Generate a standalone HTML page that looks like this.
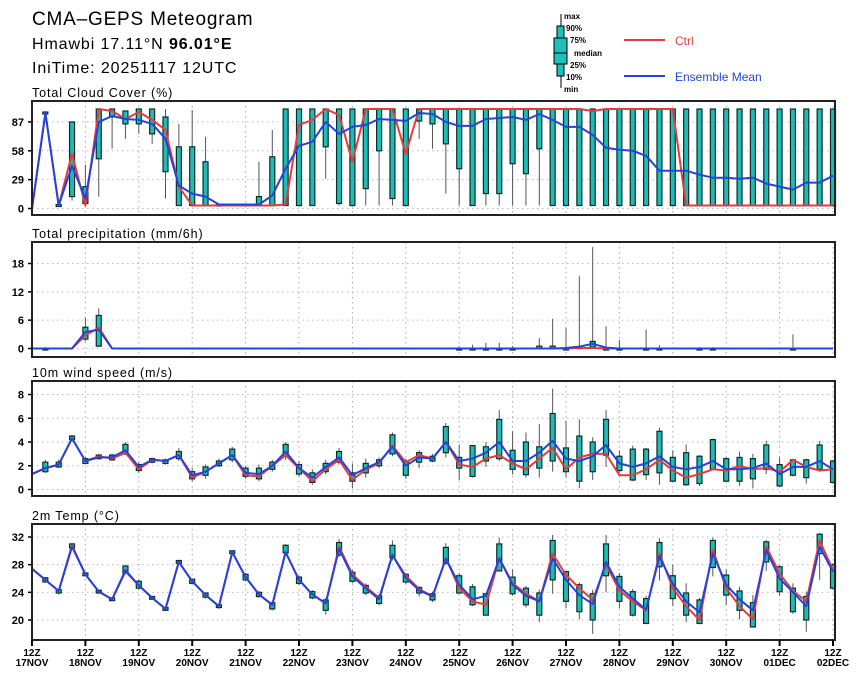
<!DOCTYPE html>
<html><head><meta charset="utf-8"><style>
html,body{margin:0;padding:0;background:#fff;}
svg{display:block;font-family:"Liberation Sans",sans-serif;}
</style></head><body>
<svg id="chart" width="860" height="679" viewBox="0 0 860 679" xmlns="http://www.w3.org/2000/svg">
<text x="32" y="25" font-size="19" letter-spacing="0.8">CMA–GEPS Meteogram</text>
<text x="32" y="49" font-size="16" letter-spacing="0.9">Hmawbi 17.11°N <tspan font-weight="bold">96.01°E</tspan></text>
<text x="32" y="73" font-size="16" letter-spacing="0.9">IniTime: 20251117 12UTC</text>
<g>
<line x1="561" y1="14" x2="561" y2="88" stroke="#000" stroke-width="1"/>
<rect x="557" y="26" width="7" height="50" fill="#1fc0bb" stroke="#000" stroke-width="1"/>
<rect x="554" y="38" width="13" height="26" fill="#1fc0bb" stroke="#000" stroke-width="1"/>
<line x1="554" y1="53" x2="567" y2="53" stroke="#000"/>
<g font-size="8" font-weight="bold">
<text x="564" y="19">max</text><text x="566" y="31">90%</text><text x="570" y="43">75%</text>
<text x="574" y="56">median</text><text x="570" y="68">25%</text><text x="566" y="80">10%</text><text x="564" y="92">min</text></g>
<line x1="624" y1="40" x2="665" y2="40" stroke="#e83a3a" stroke-width="2"/>
<text x="675" y="45" font-size="12" fill="#e83a3a">Ctrl</text>
<line x1="624" y1="76" x2="665" y2="76" stroke="#2244dd" stroke-width="2"/>
<text x="675" y="81" font-size="12" fill="#2244dd">Ensemble Mean</text>
</g>
</svg>
<script>
// ---- data (61 steps, 6-hourly from 12Z 17NOV) ----
const days = ["17NOV","18NOV","19NOV","20NOV","21NOV","22NOV","23NOV","24NOV","25NOV","26NOV","27NOV","28NOV","29NOV","30NOV","01DEC","02DEC"];
const cloudTicks = [0,29,58,87];
const cloudMean = [0,96,3,43,10,87,93,90,89,85,70,23,15,12,4,4,4,4,13,40,63,67,87,75,82,84,90,89,88,96,95,87,83,83,90,91,92,89,95,89,82,82,74,61,59,58,53,38,38,38,34,31,31,30,31,25,22,19,26,26,33];
const cloudCtrl = [0,96,3,55,3,100,98,90,97,89,79,22,3,3,3,3,3,3,3,4,84,89,100,94,47,100,100,100,55,100,100,100,100,100,100,100,100,100,100,100,100,100,98,100,100,100,100,100,100,3,3,3,3,3,3,3,3,3,3,3,3];
const cloudMin = [0,95,2,8,3,12,60,70,75,65,10,3,3,3,3,3,3,3,3,3,3,3,30,3,3,3,3,3,3,70,60,15,3,3,3,3,3,3,3,3,3,3,3,3,3,3,3,3,3,3,3,3,3,3,3,3,3,3,3,3,3];
const cloudLo = [0,95,2,12,5,50,92,85,85,75,37,3,3,3,3,3,3,3,3,3,3,3,62,5,3,20,58,10,3,88,85,65,40,3,15,15,45,35,60,3,3,3,3,3,3,3,3,3,3,3,3,3,3,3,3,3,3,3,3,3,3];
const cloudHi = [0,97,4,87,22,100,100,98,100,100,92,62,62,47,4,3,3,12,52,100,100,100,100,100,100,100,100,100,100,100,100,100,100,100,100,100,100,100,100,100,100,100,100,100,100,100,100,100,100,100,100,100,100,100,100,100,100,100,100,100,100];
const cloudMax = [0,97,4,87,44,100,100,98,100,100,100,85,99,72,5,3,3,47,79,100,100,100,100,100,100,100,100,100,100,100,100,100,100,100,100,100,100,100,100,100,100,100,100,100,100,100,100,100,100,100,100,100,100,100,100,100,100,100,100,100,100];

const precipTicks = [0,6,12,18];
const precipMean = [0,0,0,0,3.5,4.0,0,0,0,0,0,0,0,0,0,0,0,0,0,0,0,0,0,0,0,0,0,0,0,0,0,0,0,0,0,0,0,0,0,0,0.1,0.4,1.0,0.2,0,0,0,0,0,0,0,0,0,0,0,0,0,0,0,0,0];
const precipCtrl = [0,0,0,0,2.8,4.4,0,0,0,0,0,0,0,0,0,0,0,0,0,0,0,0,0,0,0,0,0,0,0,0,0,0,0,0,0,0,0,0,0,0,0,0.1,0.1,0,0,0,0,0,0,0,0,0,0,0,0,0,0,0,0,0,0];
const precipMin = [0,0,0,0,1.5,0.3,0,0,0,0,0,0,0,0,0,0,0,0,0,0,0,0,0,0,0,0,0,0,0,0,0,0,0,0,0,0,0,0,0,0,0,0,0,0,0,0,0,0,0,0,0,0,0,0,0,0,0,0,0,0,0];
const precipLo = [0,0,0,0,2.0,0.5,0,0,0,0,0,0,0,0,0,0,0,0,0,0,0,0,0,0,0,0,0,0,0,0,0,0,0,0,0,0,0,0,0,0,0,0,0.3,0,0,0,0,0,0,0,0,0,0,0,0,0,0,0,0,0,0];
const precipHi = [0,0,0,0,4.5,7.0,0,0,0,0,0,0,0,0,0,0,0,0,0,0,0,0,0,0,0,0,0,0,0,0,0,0,0,0,0,0,0,0,0.5,0.5,0,0.3,1.5,0,0,0,0,0,0,0,0,0,0,0,0,0,0,0,0,0,0];
const precipMax = [0,0.3,0,0,6.5,8.5,0,0,0,0,0,0,0,0,0,0,0,0,0,0,0,0,0,0,0,0,0,0,0,0,0,0,0.5,0.8,1.2,1.2,0.5,0,2.2,6.3,4.4,15.3,21.5,4.7,1.8,0,4.0,0.7,0,0,0.3,0.3,0,0,0,0,0,3.0,0,0,0];

const windTicks = [0,2,4,6,8];
const windMean = [1.3,1.8,2.1,4.3,2.4,2.7,2.7,3.3,1.9,2.5,2.4,2.9,1.2,1.5,2.2,2.9,1.4,1.3,2.0,3.2,1.8,1.0,1.9,2.7,1.2,1.8,2.3,3.6,2.0,2.7,2.6,4.0,2.4,2.6,3.1,4.0,2.4,2.4,3.1,4.1,2.6,2.4,2.8,3.75,2.2,1.9,2.2,2.8,1.9,1.7,1.9,2.4,1.7,1.7,1.8,2.2,1.3,1.9,1.9,2.4,1.7];
const windCtrl = [1.3,1.8,2.1,4.3,2.4,2.8,2.6,3.1,1.7,2.5,2.4,2.9,1.0,1.5,2.2,2.9,1.2,1.1,2.0,2.9,1.8,0.7,1.7,2.5,0.8,1.7,2.2,3.7,2.3,2.9,2.6,4.0,2.1,1.9,2.6,2.9,2.2,1.7,2.6,3.5,1.7,2.7,3.0,3.0,1.2,1.2,1.7,2.5,1.6,1.0,1.3,1.7,1.6,2.0,1.7,1.8,1.5,2.5,1.9,1.6,1.7];
const windLo = [1.3,1.5,1.9,4.2,2.2,2.6,2.5,3.0,1.6,2.3,2.2,2.6,0.9,1.2,2.0,2.5,1.1,0.9,1.7,2.8,1.3,0.6,1.5,2.3,0.7,1.4,2.0,3.0,1.2,2.3,2.4,3.1,1.8,1.1,2.4,2.6,1.7,1.25,1.8,2.4,1.5,0.7,1.5,2.9,1.6,0.8,1.25,1.4,0.7,0.4,0.5,1.7,0.7,0.7,0.9,1.7,0.3,1.2,1.0,1.7,0.6];
const windHi = [1.3,2.3,2.3,4.5,2.6,2.9,2.9,3.8,2.1,2.6,2.5,3.2,1.5,1.9,2.4,3.4,1.8,1.8,2.3,3.8,2.1,1.4,2.2,3.2,1.4,2.2,2.5,4.6,2.4,3.1,2.8,5.3,2.7,3.7,3.6,5.9,3.3,4.0,3.6,6.4,3.5,4.5,4.0,5.9,2.8,3.4,3.4,4.9,2.7,3.1,2.8,4.2,2.6,2.7,2.6,3.75,2.1,2.5,2.5,3.75,2.4];
const windMin = [1.3,1.4,1.8,4.1,2.1,2.5,2.4,2.9,1.4,2.2,2.1,2.4,0.7,0.9,1.9,2.3,0.9,0.7,1.5,2.5,1.1,0.4,1.3,2.1,0.1,1.0,1.8,2.8,0.9,1.8,2.3,2.7,0.8,1.0,1.9,2.4,1.25,1.0,1.0,1.5,1.0,0.1,0.8,1.9,1.4,0.7,0.8,0.4,0.6,0.3,0.3,1.6,0.6,0.3,0.1,1.3,0.2,1.1,0.5,1.5,0.5];
const windMax = [1.3,2.5,2.5,4.6,2.7,3.0,3.0,4.0,2.3,2.7,2.6,3.5,1.8,2.1,2.6,3.6,2.0,2.1,2.5,4.0,2.4,1.7,2.5,3.5,2.2,2.6,2.7,4.8,2.6,3.3,3.0,5.6,3.8,3.7,4.0,6.7,4.9,4.8,5.5,8.5,5.8,5.9,4.4,6.7,3.3,3.7,3.5,5.2,3.3,3.8,2.9,4.3,2.7,3.2,3.0,4.1,2.7,2.6,2.6,4.1,2.5];

const tempTicks = [20,24,28,32];
const tempMean = [27.4,25.8,24.2,30.6,26.6,24.1,23.0,27.2,25.0,23.2,21.6,28.4,25.6,23.6,22.0,29.8,26.2,23.7,22.2,29.8,25.8,23.7,22.4,30.3,26.3,24.6,23.0,29.4,26.1,24.3,23.4,28.9,25.1,23.0,23.5,28.9,25.1,23.5,22.7,28.9,25.8,23.6,22.3,28.4,24.8,23.1,21.5,29.2,25.2,22.7,21.1,29.6,25.1,23.0,21.4,30.1,26.0,24.0,22.0,30.6,27.0];
const tempCtrl = [27.4,25.8,24.2,30.8,26.6,24.1,23.0,27.0,25.0,23.2,21.6,28.4,25.6,23.6,22.0,29.8,26.2,23.7,22.2,29.8,25.8,23.7,22.4,30.6,26.6,24.8,23.2,29.4,26.4,24.5,23.4,28.9,24.6,22.7,22.2,28.9,25.3,23.8,22.7,29.6,26.5,24.6,22.9,28.0,24.3,22.7,21.4,29.6,24.6,22.0,20.0,30.1,24.6,22.0,20.1,30.6,26.7,24.2,22.7,31.5,27.2];
const tempLo = [27.4,25.5,23.9,30.4,26.4,23.9,22.8,26.8,24.6,23.0,21.4,28.2,25.3,23.3,21.8,29.6,25.8,23.4,21.6,29.7,25.3,23.2,21.4,29.4,25.6,23.9,22.4,29.0,25.5,23.9,22.9,28.2,23.9,22.2,20.7,27.1,23.8,22.2,20.7,25.8,22.7,21.2,20.0,26.4,22.7,20.7,19.5,27.7,23.1,20.7,19.5,27.6,23.6,21.4,19.0,28.4,24.1,21.2,20.0,29.6,24.6];
const tempHi = [27.4,26.1,24.4,31.0,26.8,24.3,23.2,27.8,25.6,23.4,21.8,28.6,25.9,23.9,22.2,30.0,26.6,24.0,22.5,30.8,26.2,24.1,22.9,31.2,26.9,25.0,23.5,30.8,26.6,24.7,23.8,30.5,26.4,24.8,23.8,31.0,26.2,24.6,23.9,31.5,27.0,25.1,23.8,31.0,26.3,24.1,23.1,31.2,26.4,23.9,22.9,31.5,26.5,24.2,22.5,31.3,27.7,24.6,23.4,32.4,28.0];
const tempMin = [27.4,25.4,23.7,30.3,26.3,23.8,22.7,26.6,24.4,22.9,21.3,28.1,25.2,23.1,21.6,29.5,25.6,23.2,21.4,29.4,25.0,23.0,20.8,29.1,25.3,23.6,22.1,28.6,25.2,23.4,22.6,28.0,23.8,22.0,20.7,27.0,23.5,21.8,19.7,23.8,21.7,20.1,18.0,24.0,21.7,20.5,19.4,25.7,22.0,19.7,19.4,26.3,22.2,20.1,18.9,27.1,23.5,20.9,18.3,25.8,24.4];
const tempMax = [27.4,26.2,24.5,31.1,26.9,24.4,23.3,28.0,25.8,23.5,21.9,28.7,26.0,24.0,22.3,30.1,26.8,24.2,22.7,31.0,26.4,24.3,23.2,31.7,27.2,25.3,23.7,31.5,26.8,24.9,24.1,31.1,26.8,25.2,23.8,31.9,27.3,24.9,24.4,32.3,27.0,25.4,24.4,32.3,26.8,24.5,23.5,31.8,28.0,25.3,23.2,31.9,27.3,24.8,23.6,31.6,27.9,25.3,24.1,32.6,28.2];

// ---- layout ----
const svg = document.getElementById('chart');
const NS = 'http://www.w3.org/2000/svg';
const X0 = 32, X1 = 833, NSTEP = 60;
function xs(i){ return X0 + (X1 - X0) * i / NSTEP; }
function mk(tag, attrs, parent){ const e = document.createElementNS(NS, tag); for (const k in attrs) e.setAttribute(k, attrs[k]); (parent||svg).appendChild(e); return e; }

function panel(name, title, top, bottom, vmin, vmax, yMin, yMax, ticks, mean, ctrl, lo, hi, mn, mx){
  const g = mk('g', {});
  
  
  const ys = v => yMin + (yMax - yMin) * (v - vmin) / (vmax - vmin);
  const t = mk('text', {x: 32, y: top - 4, 'font-size': 12.5, 'letter-spacing': 0.9}, g);
  t.textContent = title;
  
  
  for (let d = 0; d < days.length; d++) {
    const x = xs(d * 4);
    const gl = mk('line', {x1: x, x2: x, y1: top, y2: bottom, stroke: '#aaa', 'stroke-width': 1, 'stroke-dasharray': '1.5,3.5'}, g);
    
    
  }
  ticks.forEach(v => {
    const y = ys(v);
    const hl = mk('line', {x1: X0, x2: X1, y1: y, y2: y, stroke: '#bbb', 'stroke-width': 1, 'stroke-dasharray': '1.5,3.5'}, g);
    
    
    mk('line', {x1: X0 - 4, x2: X0, y1: y, y2: y, stroke: '#000', 'stroke-width': 1.5}, g);
    const tl = mk('text', {x: 24, y: y + 4, 'font-size': 11, 'font-weight': 'bold', 'text-anchor': 'end'}, g);
    tl.textContent = v;
    
    
  });
  for (let i = 0; i < mean.length; i++) {
    const x = xs(i);
    if (mx[i] - mn[i] <= 0 && hi[i] - lo[i] <= 0) continue;
    const w = mk('line', {x1: x, x2: x, y1: ys(mn[i]), y2: ys(mx[i]), stroke: '#555', 'stroke-width': 1}, g);
    
    
    const yt = ys(hi[i]), yb = ys(lo[i]);
    const b = mk('rect', {x: x - 2.5, y: Math.min(yt, yb), width: 5, height: Math.max(1.5, Math.abs(yb - yt)), fill: '#1fbcb6', stroke: '#0d2d2d', 'stroke-width': 1.2}, g);
    
    
  }
  const pts = arr => arr.map((v, i) => xs(i).toFixed(1) + ',' + ys(v).toFixed(1)).join(' ');
  const cl = mk('polyline', {points: pts(ctrl), fill: 'none', stroke: '#e83a3a', 'stroke-width': 2, 'stroke-linejoin': 'round'}, g);
  
  
  const ml = mk('polyline', {points: pts(mean), fill: 'none', stroke: '#2244dd', 'stroke-width': 2, 'stroke-linejoin': 'round'}, g);
  
  
  const fr = mk('rect', {x: X0, y: top, width: X1 - X0 + 2, height: bottom - top, fill: 'none', stroke: '#222', 'stroke-width': 2}, g);
  
  
}

panel('cloud', 'Total Cloud Cover (%)', 101, 215, 0, 100, 208.5, 109, cloudTicks, cloudMean, cloudCtrl, cloudLo, cloudHi, cloudMin, cloudMax);
panel('precip', 'Total precipitation (mm/6h)', 242, 357, 0, 18, 348.5, 263.5, precipTicks, precipMean, precipCtrl, precipLo, precipHi, precipMin, precipMax);
panel('wind', '10m wind speed (m/s)', 381, 496, 0, 8, 489.5, 394.5, windTicks, windMean, windCtrl, windLo, windHi, windMin, windMax);
panel('temp', '2m Temp (°C)', 524, 640, 20, 32, 620, 537, tempTicks, tempMean, tempCtrl, tempLo, tempHi, tempMin, tempMax);

const xa = mk('g', {});


days.forEach((d, k) => {
  const x = xs(k * 4);
  mk('line', {x1: x, x2: x, y1: 640, y2: 646, stroke: '#000', 'stroke-width': 2}, xa);
  const t1 = mk('text', {x: x, y: 656, 'font-size': 10, 'font-weight': 'bold', 'text-anchor': 'middle'}, xa);
  t1.textContent = '12Z';
  
  
  const t2 = mk('text', {x: x, y: 666, 'font-size': 10, 'font-weight': 'bold', 'text-anchor': 'middle'}, xa);
  t2.textContent = d;
  
  
});
</script>
</body></html>
